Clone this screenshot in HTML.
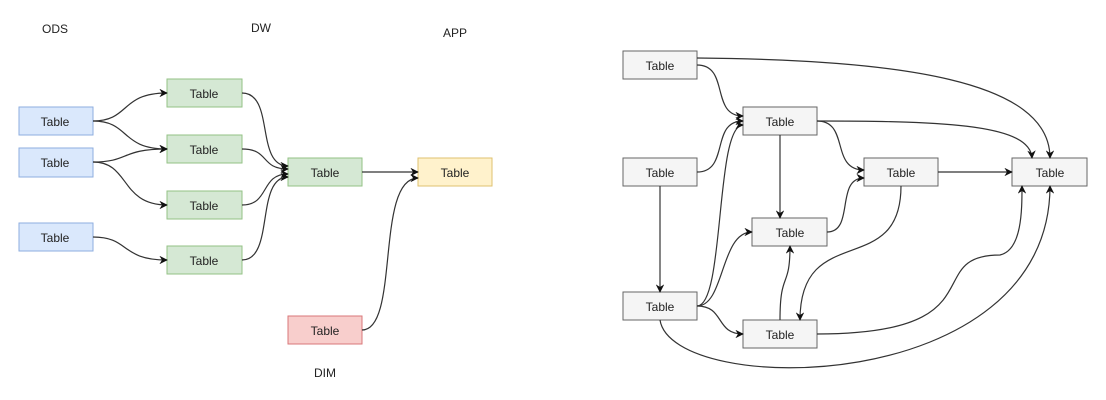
<!DOCTYPE html>
<html><head><meta charset="utf-8"><style>
body{margin:0;background:#fff;}
svg{display:block;font-family:"Liberation Sans",Helvetica,sans-serif;}
text{font-size:12px;fill:#222;text-anchor:middle;}
.e{fill:none;stroke:#333;stroke-width:1.2;marker-end:url(#a);}
</style></head><body>
<svg width="1106" height="400" viewBox="0 0 1106 400">
<defs><marker id="a" viewBox="0 0 10 10" refX="9" refY="5" markerWidth="7" markerHeight="7" orient="auto"><path d="M0,0 L10,5 L0,10 L3,5 z" fill="#111"/></marker></defs>
<g fill="#dae8fc" stroke="#8eaedf">
<rect x="19" y="107" width="74" height="28"/><rect x="19" y="148" width="74" height="29"/><rect x="19" y="223" width="74" height="28"/></g>
<g fill="#d5e8d4" stroke="#93c285">
<rect x="167" y="79" width="75" height="28"/><rect x="167" y="135" width="75" height="28"/><rect x="167" y="191" width="75" height="28"/><rect x="167" y="246" width="75" height="28"/><rect x="288" y="158" width="74" height="28"/></g>
<rect x="418" y="158" width="74" height="28" fill="#fff2cc" stroke="#dfc16f"/>
<rect x="288" y="316" width="74" height="28" fill="#f8cecc" stroke="#d9777a"/>
<g>
<text x="55" y="126">Table</text><text x="55" y="167">Table</text><text x="55" y="242">Table</text>
<text x="204" y="98">Table</text><text x="204" y="154">Table</text><text x="204" y="210">Table</text><text x="204" y="265">Table</text>
<text x="325" y="177">Table</text><text x="455" y="177">Table</text><text x="325" y="335">Table</text>
<text x="55" y="33">ODS</text><text x="261" y="32">DW</text><text x="455" y="37">APP</text><text x="325" y="377">DIM</text>
</g>
<path class="e" d="M93,121 C130,121 120,93 167,93"/>
<path class="e" d="M93,121 C130,121 120,149 167,149"/>
<path class="e" d="M93,162 C130,162 120,149 167,149"/>
<path class="e" d="M93,162 C130,162 120,205 167,205"/>
<path class="e" d="M93,237 C130,237 120,260 167,260"/>
<path class="e" d="M242,93 C275,93 255,166 288,166"/>
<path class="e" d="M242,149 C270,149 260,169 288,169"/>
<path class="e" d="M242,205 C270,205 260,174 288,174"/>
<path class="e" d="M242,260 C275,260 255,177 288,177"/>
<path class="e" d="M362,172 L418,172"/>
<path class="e" d="M362,330 C400,330 375,178 418,178"/>
<g fill="#f5f5f5" stroke="#666">
<rect x="623" y="51" width="74" height="28"/><rect x="743" y="107" width="74" height="28"/><rect x="623" y="158" width="74" height="28"/><rect x="864" y="158" width="74" height="28"/><rect x="1012" y="158" width="75" height="28"/><rect x="752" y="218" width="75" height="28"/><rect x="623" y="292" width="74" height="28"/><rect x="743" y="320" width="74" height="28"/></g>
<g>
<text x="660" y="70">Table</text><text x="780" y="126">Table</text><text x="660" y="177">Table</text><text x="901" y="177">Table</text><text x="1050" y="177">Table</text><text x="790" y="237">Table</text><text x="660" y="311">Table</text><text x="780" y="339">Table</text>
</g>
<path class="e" d="M697,58 C900,60 1050,80 1050,158"/>
<path class="e" d="M697,65 C730,65 710,116 743,116"/>
<path class="e" d="M697,172 C730,172 710,121 743,121"/>
<path class="e" d="M697,306 C725,306 715,125 743,125"/>
<path class="e" d="M817,121 C950,121 1030,125 1032,158"/>
<path class="e" d="M817,121 C850,121 830,170 864,170"/>
<path class="e" d="M780,135 L780,218"/>
<path class="e" d="M827,232 C855,232 835,178 864,178"/>
<path class="e" d="M938,172 L1012,172"/>
<path class="e" d="M660,186 L660,292"/>
<path class="e" d="M697,306 C725,306 720,232 752,232"/>
<path class="e" d="M697,306 C725,306 715,334 743,334"/>
<path class="e" d="M780,320 C780,270 790,290 790,246"/>
<path class="e" d="M901,186 C901,280 800,220 800,320"/>
<path class="e" d="M817,334 C1000,334 920,255 1000,255 C1022,250 1022,210 1022,186"/>
<path class="e" d="M660,320 C672,398 1050,398 1050,186"/>
</svg>
</body></html>
